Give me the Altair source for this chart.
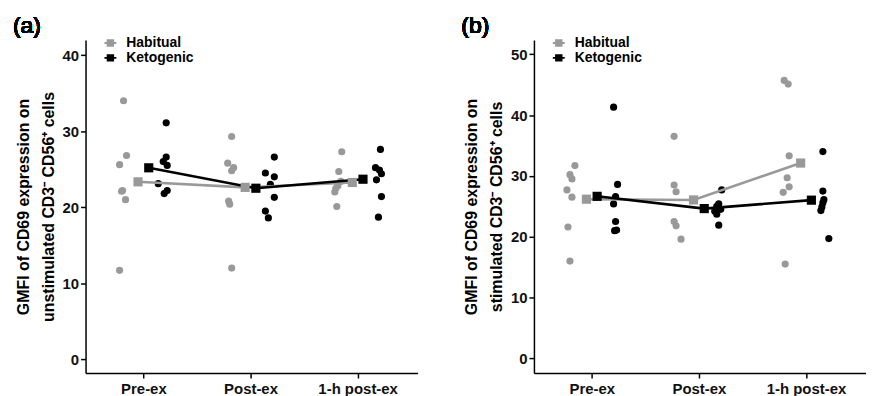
import json
import altair as alt
import pandas as pd

timepoints = ["Pre-ex", "Post-ex", "1-h post-ex"]
diets = ["Habitual", "Ketogenic"]
diet_colors = ["#999999", "#000000"]

# Panel (a): unstimulated
a_habitual = [[34.0, 26.8, 25.6, 22.2, 22.1, 21.0, 11.7],
              [29.3, 25.8, 24.8, 25.2, 20.8, 20.4, 12.0],
              [27.3, 24.7, 23.4, 22.8, 22.5, 22.0, 20.1]]
a_habitual_jitter = [[-20, -17, -24, -21, -22, -18, -24],
                     [-19, -23, -19, -17, -22, -21, -19],
                     [-16, -19, -17, -20, -22, -23, -21]]
a_ketogenic = [[31.1, 26.6, 26.0, 25.5, 23.1, 22.2, 21.8],
               [26.6, 24.5, 24.0, 23.0, 21.3, 19.5, 18.6],
               [27.6, 25.2, 24.9, 24.4, 23.6, 21.4, 18.7]]
a_ketogenic_jitter = [[23, 23, 20, 24, 15, 24, 21],
                      [24, 15, 24, 20, 24, 15, 18],
                      [23, 18, 22, 24, 19, 24, 21]]

# Panel (b): stimulated
b_habitual = [[31.7, 30.2, 29.5, 27.7, 26.5, 21.6, 16.0],
              [36.5, 28.5, 27.4, 22.5, 21.8, 19.6],
              [45.7, 45.1, 33.3, 29.7, 28.2, 27.3, 15.5]]
b_habitual_jitter = [[-17, -22, -20, -25, -20, -24, -22],
                     [-25, -25, -23, -25, -23, -18],
                     [-22, -18, -17, -19, -17, -23, -21]]
b_ketogenic = [[41.3, 28.6, 26.6, 25.4, 22.5, 21.0, 21.1],
               [27.7, 25.4, 25.0, 24.5, 24.2, 23.7, 21.9],
               [34.0, 27.5, 26.1, 25.6, 24.9, 24.3, 19.7]]
b_ketogenic_jitter = [[22, 26, 24, 22, 24, 23, 25],
                      [23, 20, 18, 22, 16, 18, 20],
                      [17, 17, 18, 17, 16, 15, 23]]

FONT = "Liberation Sans"
W, H = 334, 335
LEGEND_SHAPE = "M-1,-0.16H1V0.16H-1Z M-0.62,-0.62H0.62V0.62H-0.62Z"


def build(hab, hab_j, keto, keto_j):
    rows = []
    for ti, t in enumerate(timepoints):
        for diet, vals, jit in [("Habitual", hab[ti], hab_j[ti]),
                                ("Ketogenic", keto[ti], keto_j[ti])]:
            for v, j in zip(vals, jit):
                rows.append({"time": t, "idx": ti + 1, "diet": diet,
                             "value": v, "jitter": j})
    return pd.DataFrame(rows)


label_expr = json.dumps(timepoints) + "[datum.value - 1]"


def panel(df, tag, ytitle, ydomain, yvalues):
    xscale = alt.Scale(domain=[0.46, 3.56], nice=False, zero=False)
    yscale = alt.Scale(domain=ydomain, nice=False, zero=False)
    xaxis = alt.Axis(values=[1, 2, 3], labelExpr=label_expr, title=None,
                     labelPadding=4)
    yaxis = alt.Axis(values=yvalues, title=ytitle, titlePadding=6,
                     titleLineHeight=25)
    color_scale = alt.Scale(domain=diets, range=diet_colors)
    legend = alt.Legend(
        title=None, orient="none", legendX=18, legendY=-4,
        symbolType=LEGEND_SHAPE, symbolSize=144, symbolStrokeWidth=0,
        labelFontSize=14, labelFontWeight="bold", labelFont=FONT,
        labelColor="#000000", labelOffset=9, rowPadding=1, padding=0)
    color = alt.Color("diet:N", scale=color_scale, legend=legend)

    base = alt.Chart(df)
    pts = base.transform_calculate(
        xpos="datum.idx + datum.jitter / 108"
    ).mark_circle(size=52, opacity=1).encode(
        x=alt.X("xpos:Q", scale=xscale, axis=xaxis),
        y=alt.Y("value:Q", scale=yscale, axis=yaxis),
        color=color,
    )
    means = base.transform_aggregate(
        value="mean(value)", groupby=["time", "idx", "diet"]
    ).transform_calculate(
        xpos="datum.idx + (datum.diet == 'Habitual' ? -0.05 : 0.05)"
    )
    lines = means.mark_line(strokeWidth=2.6).encode(
        x=alt.X("xpos:Q", scale=xscale, axis=xaxis),
        y=alt.Y("value:Q", scale=yscale, axis=yaxis),
        color=color,
        detail="diet:N",
    )
    squares = means.mark_point(shape="square", filled=True, size=85,
                               opacity=1).encode(
        x=alt.X("xpos:Q", scale=xscale, axis=xaxis),
        y=alt.Y("value:Q", scale=yscale, axis=yaxis),
        color=color,
    )
    tag_text = alt.Chart(df).mark_text(
        text=tag, fontSize=23, font=FONT, fontWeight="normal", align="left",
        baseline="alphabetic", color="#000000"
    ).encode(x=alt.value(-73), y=alt.value(-7))

    return alt.layer(pts, lines, squares, tag_text).properties(width=W, height=H)


df_a = build(a_habitual, a_habitual_jitter, a_ketogenic, a_ketogenic_jitter)
df_b = build(b_habitual, b_habitual_jitter, b_ketogenic, b_ketogenic_jitter)

pa = panel(df_a, "(a)", ["GMFI of CD69 expression on",
                         "unstimulated CD3\u207b CD56\u207a cells"],
           [-1.8, 42], [0, 10, 20, 30, 40])
pb = panel(df_b, "(b)", ["GMFI of CD69 expression on",
                         "stimulated CD3\u207b CD56\u207a cells"],
           [-2.4, 52.35], [0, 10, 20, 30, 40, 50])

chart = alt.hconcat(pa, pb, spacing=44).resolve_scale(
    color="independent", x="independent", y="independent"
).resolve_legend(color="independent").properties(
    padding={"left": 5, "top": 6, "right": 0, "bottom": 0}
).configure_view(stroke=None).configure_axis(
    grid=False, domainColor="#000000", domainWidth=1.5,
    tickColor="#000000", tickWidth=1.5, tickSize=5,
    labelFont=FONT, labelFontSize=15, labelFontWeight="bold",
    labelColor="#111111", titleFont=FONT, titleFontSize=16,
    titleFontWeight="bold", titleColor="#000000"
)

chart.save("out.html", embed_options={"renderer": "svg", "actions": False})
